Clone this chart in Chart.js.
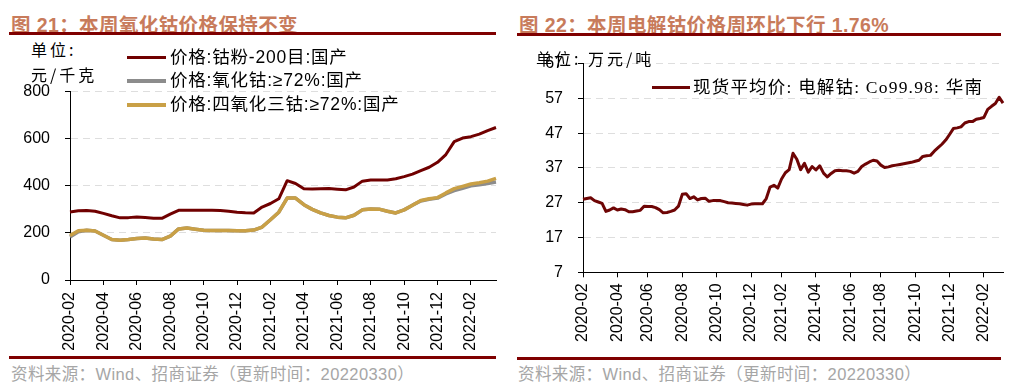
<!DOCTYPE html>
<html>
<head>
<meta charset="utf-8">
<script src="https://cdn.jsdelivr.net/npm/chart.js@4.4.1/dist/chart.umd.min.js"></script>
<style>
  body { margin: 0; width: 1010px; height: 386px; background: #fff; position: relative; overflow: hidden;
         font-family: "Liberation Sans", "Noto Sans CJK SC", sans-serif; }
  .title { position: absolute; top: 9px; font-size: 19.5px; font-weight: bold; color: #c87b5b; white-space: nowrap; letter-spacing: 0.4px; }
  .rule { position: absolute; height: 3px; background: #7f0000; }
  .src { position: absolute; top: 361px; font-size: 16.5px; color: #a6a6a6; white-space: nowrap; letter-spacing: 0.4px; }
  .unit { position: absolute; font-size: 16px; color: #000; letter-spacing: 3px; white-space: nowrap;
          font-family: "Noto Sans CJK SC", sans-serif; }
  .leg { position: absolute; font-size: 17.5px; color: #000; white-space: nowrap; height: 20px; line-height: 20px;
         font-family: "Liberation Sans", "Noto Sans CJK SC", sans-serif; letter-spacing: 0.8px; }
  .leg i { position: absolute; left: 0; width: 39px; top: 9px; height: 3px; }
  .leg span { position: absolute; left: 43px; top: 0; }
  canvas { position: absolute; }
</style>
</head>
<body>

<div class="title" style="left:11px">图 21：本周氧化钴价格保持不变</div>
<div class="title" style="left:519px">图 22：本周电解钴价格周环比下行 1.76%</div>
<div class="rule" style="left:9px; width:487px; top:32px"></div>
<div class="rule" style="left:517px; width:484px; top:33px"></div>

<canvas id="left" width="505" height="290" style="left:0; top:70px"></canvas>
<canvas id="right" width="505" height="310" style="left:505px; top:50px"></canvas>

<div class="unit" style="left:31px; top:37px">单位:</div>
<div class="unit" style="left:31px; top:62px">元/千克</div>
<div class="unit" style="left:536px; top:46px">单位:&nbsp;万元/吨</div>

<div class="leg" style="left:127px; top:47px"><i style="background:#700000"></i><span>价格:钴粉-200目:国产</span></div>
<div class="leg" style="left:127px; top:70px"><i style="background:#8c8c8c; height:4px"></i><span>价格:氧化钴:≥72%:国产</span></div>
<div class="leg" style="left:127px; top:94px"><i style="background:#c9a046; height:4px"></i><span>价格:四氧化三钴:≥72%:国产</span></div>
<div class="leg" style="left:652px; top:77px; font-family:'Liberation Serif','Noto Sans CJK SC',serif; letter-spacing:1.2px"><i style="background:#6e0505; width:38px"></i><span style="left:41px">现货平均价: 电解钴: Co99.98: 华南</span></div>

<div class="rule" style="left:9px; width:487px; top:356px"></div>
<div class="rule" style="left:517px; width:484px; top:357px"></div>
<div class="src" style="left:11px">资料来源：Wind、招商证券（更新时间：20220330）</div>
<div class="src" style="left:518px">资料来源：Wind、招商证券（更新时间：20220330）</div>

<script>
// x-axis labels shown every two months
const tickLabels = ['2020-02','2020-04','2020-06','2020-08','2020-10','2020-12',
                    '2021-02','2021-04','2021-06','2021-08','2021-10','2021-12','2022-02'];

// left chart: semi-monthly readings, 2020-02-01 .. 2022-03-16 (元/千克)
const cobaltPowder = [289,294,295,292,283,273,264,265,268,266,262,262,280,296,296,296,296,296,295,292,
                      288,286,285,310,325,345,422,410,388,387,388,389,386,383,395,420,425,425,425,430,
                      439,450,465,479,500,533,588,603,609,620,635,648];
const cobaltOxide  = [183,205,211,208,190,172,169,172,176,178,174,172,186,217,221,216,211,210,210,210,
                      209,209,212,225,256,288,348,348,320,300,285,274,267,264,275,298,302,301,292,285,
                      298,318,336,343,348,366,380,390,400,405,410,416];
const co3o4        = [189,209,211,208,190,172,169,172,176,178,174,172,186,217,221,216,211,210,210,210,
                      209,209,212,225,256,288,348,348,320,300,285,274,267,264,275,298,302,301,292,285,
                      298,318,338,345,350,370,388,398,408,413,420,432];

// right chart: weekly readings from 2020-02-03 (万元/吨)
const electroCobalt = [28.0,28.2,28.4,27.6,27.2,26.8,24.5,24.9,25.5,24.9,
                       25.2,25.0,24.4,24.4,24.6,24.8,26.0,25.9,25.9,25.6,
                       25.0,24.1,24.2,24.5,24.9,26.0,29.4,29.6,28.2,28.7,
                       27.8,28.2,28.3,27.4,27.6,27.6,27.6,27.3,27.0,26.9,
                       26.8,26.7,26.5,26.3,26.6,26.7,26.7,26.7,28.2,31.5,
                       32.0,31.2,33.8,35.6,36.5,41.2,39.5,36.5,38.3,35.8,
                       37.4,36.4,37.6,35.5,34.4,35.4,36.2,36.3,36.2,36.2,
                       36.0,35.5,36.0,37.4,38.1,38.7,39.2,39.0,37.8,37.1,
                       37.3,37.6,37.8,38.0,38.2,38.4,38.6,38.9,39.2,40.3,
                       40.5,40.6,41.8,42.8,43.8,45.0,46.6,48.3,48.5,48.8,
                       49.9,50.3,50.3,51.0,51.2,51.5,53.8,54.7,55.5,57.3,
                       55.6];

function pad(n) { return String(n).padStart(2, '0'); }

// category dates
const semiMonthDates = [];
for (let k = 0; semiMonthDates.length < cobaltPowder.length; k++) {
    const y = 2020 + Math.floor((1 + k) / 12), m = (1 + k) % 12 + 1;
    semiMonthDates.push(y + '-' + pad(m) + '-01', y + '-' + pad(m) + '-16');
}
const weekDates = [];
for (let i = 0; i < electroCobalt.length; i++) {
    const d = new Date(Date.UTC(2020, 1, 3 + 7 * i));
    weekDates.push(d.getUTCFullYear() + '-' + pad(d.getUTCMonth() + 1) + '-' + pad(d.getUTCDate()));
}

// index of the first category of each labelled month
function tickIndexMap(dates) {
    const map = {};
    dates.forEach((d, i) => {
        const ym = d.slice(0, 7);
        if (tickLabels.includes(ym) && !Object.values(map).includes(ym)) map[i] = ym;
    });
    return map;
}

const FONT = { family: '"Liberation Sans", Arial, sans-serif', size: 16 };

function xScale(map, pad, height) {
    return {
        type: 'category',
        grid: {
            display: true, drawOnChartArea: false, drawTicks: true, tickLength: 5,
            tickColor: ctx => (map[ctx.index] ? '#000' : 'rgba(0,0,0,0)')
        },
        border: { color: '#000', width: 1 },
        ticks: {
            autoSkip: false, maxRotation: 90, minRotation: 90, padding: pad,
            color: '#000', font: FONT,
            callback: (v, i) => map[i] || ''
        },
        afterFit: s => { s.paddingLeft = 0; s.paddingRight = 0; s.height = height; }
    };
}

function yScale(min, max, step, width) {
    return {
        min: min, max: max,
        grid: {
            color: ctx => (ctx.tick && ctx.tick.value === min ? 'rgba(0,0,0,0)' : '#dedede'),
            lineWidth: 1, drawTicks: true, tickLength: 5, tickColor: '#000'
        },
        border: { color: '#000', width: 1, dash: [7, 5] },
        ticks: { stepSize: step, padding: 15, color: '#000', font: FONT },
        afterFit: s => { s.width = width; s.paddingTop = 0; s.paddingBottom = 0; }
    };
}

const common = {
    responsive: false,
    animation: false,
    devicePixelRatio: 1,
    elements: { point: { radius: 0 }, line: { tension: 0, borderJoinStyle: 'round' } },
    plugins: { legend: { display: false }, tooltip: { enabled: false } }
};

new Chart(document.getElementById('left'), {
    type: 'line',
    data: {
        labels: semiMonthDates,
        datasets: [
            { label: '价格:钴粉-200目:国产', data: cobaltPowder, borderColor: '#700000', borderWidth: 3, order: 0 },
            { label: '价格:氧化钴:≥72%:国产', data: cobaltOxide, borderColor: '#8c8c8c', borderWidth: 3.5, order: 2 },
            { label: '价格:四氧化三钴:≥72%:国产', data: co3o4, borderColor: '#c9a046', borderWidth: 3.5, order: 1 }
        ]
    },
    options: Object.assign({}, common, {
        layout: { padding: { left: 0, top: 21.7, right: 9, bottom: 0 } },
        scales: { x: xScale(tickIndexMap(semiMonthDates), 7, 80), y: yScale(0, 800, 200, 70) }
    })
});

new Chart(document.getElementById('right'), {
    type: 'line',
    data: {
        labels: weekDates,
        datasets: [
            { label: '现货平均价: 电解钴: Co99.98: 华南', data: electroCobalt, borderColor: '#6e0505', borderWidth: 3 }
        ]
    },
    options: Object.assign({}, common, {
        layout: { padding: { left: 0, top: 13.5, right: 7, bottom: 0 } },
        scales: { x: xScale(tickIndexMap(weekDates), 6, 87.7), y: yScale(7, 67, 10, 78) }
    })
});
</script>
</body>
</html>
